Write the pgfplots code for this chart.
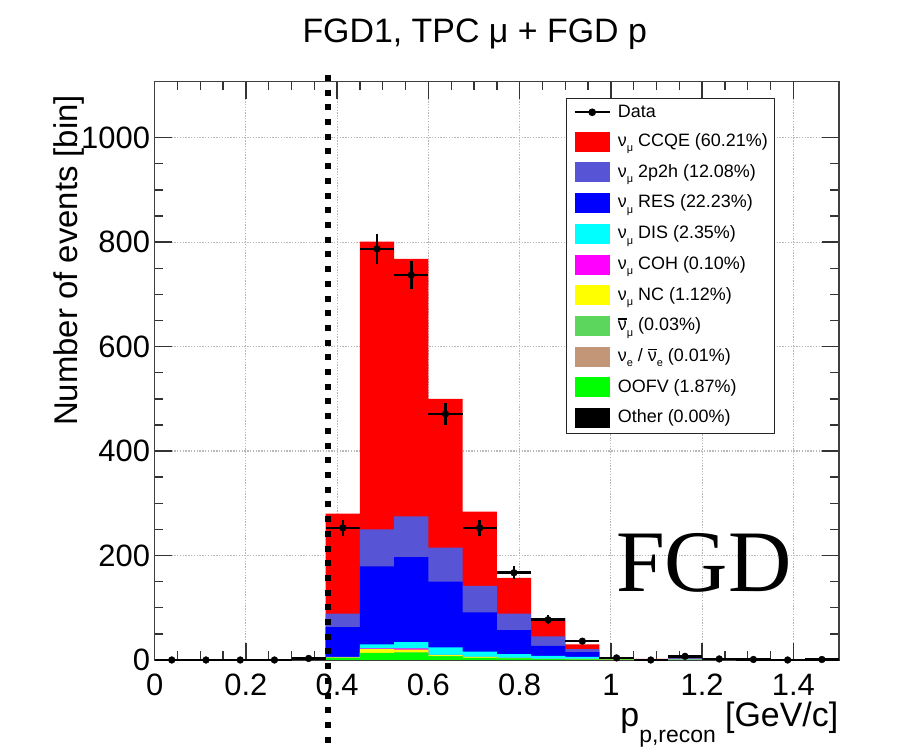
\documentclass[border=0pt]{standalone}
\usepackage{pgfplots}
\pgfplotsset{compat=1.18}
\usepackage{pgfplotstable}
\usepackage{fontspec}
\setmainfont{Liberation Sans}
\newfontfamily\serifFGD{Liberation Serif}
\definecolor{cccqe}{RGB}{255,0,0}
\definecolor{c2p2h}{RGB}{88,84,214}
\definecolor{cres}{RGB}{0,0,255}
\definecolor{cdis}{RGB}{0,255,255}
\definecolor{ccoh}{RGB}{255,0,255}
\definecolor{cnc}{RGB}{255,255,0}
\definecolor{cnubar}{RGB}{92,214,92}
\definecolor{cnue}{RGB}{196,150,120}
\definecolor{coofv}{RGB}{0,255,0}
\newcommand\sub[1]{\raisebox{-0.3em}{\fontsize{11}{11}\selectfont #1}}
\newcommand\nubar{\makebox[0pt][l]{\rule[0.62em]{0.48em}{0.07em}}ν}
\pgfplotsset{mcbar/.style={ybar, bar width=0.075, bar shift=0pt, draw=none,
  legend image code/.code={\fill[##1] (0bp,-10bp) rectangle (35bp,10bp);}}}

% cumulative tops of the stacked MC components
\pgfplotstableread{
x      ccqe p2h  res  dis  coh  nc   nubar oofv
0.3375 2    2    2    1    1    1    1     1
0.4125 280  89   63   6    5    5    4     4
0.4875 801  250  179  30   22   21   13.5  13
0.5625 768  275  197  34   22   20   14.5  14
0.6375 500  215  150  24   10   9.5  7.3   7
0.7125 284  142  91   16   6.2  6    4.2   4
0.7875 157  89   57   11   4.1  4    3     3
0.8625 80   45   27   8    2    2    1.5   1.5
0.9375 30   21   15   6    2    2    1     1
1.0125 2.5  2    1.8  1.2  1    1    0.5   0.5
1.0875 2    1.8  1.5  0.5  0.3  0.3  0.2   0.2
1.1625 3    2.8  2.6  2.3  0.5  0.5  0.3   0.3
1.2375 2    1.8  1.6  0.5  0.3  0.3  0.2   0.2
1.3125 1    0.9  0.8  0.3  0.2  0.2  0.1   0.1
}\mc

\pgfplotstableread{
x      ex     y    ey
0.0375 0.0375 0    0
0.1125 0.0375 0    0
0.1875 0.0375 0    0
0.2625 0.0375 0    0
0.3375 0.0375 3    1.7
0.4125 0.0375 253  15.9
0.4875 0.0375 787  28.1
0.5625 0.0375 737  27.1
0.6375 0.0375 471  21.7
0.7125 0.0375 253  15.9
0.7875 0.0375 167  12.9
0.8625 0.0375 77   8.8
0.9375 0.0375 36   6
1.0125 0.0375 4    2
1.0875 0.0375 0    0
1.1625 0.0375 7    2.6
1.2375 0.0375 2    1.4
1.3125 0.0375 1    1
1.3875 0.0375 0    0
1.4625 0.0375 1    1
}\data

\begin{document}
\begin{tikzpicture}
\begin{axis}[
  scale only axis, width=684bp, height=578bp,
  xmin=0, xmax=1.5, ymin=0, ymax=1107,
  clip=false,
  xtick={0,0.2,0.4,0.6,0.8,1,1.2,1.4},
  ytick={0,200,400,600,800,1000},
  minor x tick num=3, minor y tick num=3,
  major tick length=17bp, minor tick length=8.5bp,
  tick align=inside,
  axis line style={black!75, line width=1.4bp},
  tick style={black!80, line width=1.4bp},
  grid=major,
  major grid style={gray!55, line width=1.1bp, dash pattern=on 1.4bp off 1.4bp},
  /pgf/number format/assume math mode=true,
  /pgf/number format/1000 sep={},
  tick label style={font=\fontsize{31}{31}\selectfont},
  xticklabel style={anchor=base, inner sep=0pt, yshift=-35bp},
  yticklabel style={anchor=east, inner sep=0pt, xshift=-4.5bp},
  legend cell align=left,
  legend style={at={(axis cs:0.9014,1076)}, anchor=north west,
    draw=black!85, line width=1.2bp, fill=white,
    font=\fontsize{18}{20}\selectfont,
    inner xsep=7bp, inner ysep=5bp, row sep=10.7bp,
    nodes={inner sep=0pt, text height=13.5bp, text depth=4bp},
    /tikz/every odd column/.append style={column sep=7bp}},
]
\addlegendimage{black, legend image code/.code={\draw[black, line width=2.4bp] (0bp,0bp) -- (35bp,0bp); \fill[black] (17.5bp,0bp) circle (3.2bp);}}
\addlegendentry{Data}
\addplot[mcbar, fill=cccqe] table[x=x, y=ccqe] {\mc};
\addlegendentry{ν\sub{μ} CCQE (60.21\%)}
\addplot[mcbar, fill=c2p2h] table[x=x, y=p2h] {\mc};
\addlegendentry{ν\sub{μ} 2p2h (12.08\%)}
\addplot[mcbar, fill=cres] table[x=x, y=res] {\mc};
\addlegendentry{ν\sub{μ} RES (22.23\%)}
\addplot[mcbar, fill=cdis] table[x=x, y=dis] {\mc};
\addlegendentry{ν\sub{μ} DIS (2.35\%)}
\addplot[mcbar, fill=ccoh] table[x=x, y=coh] {\mc};
\addlegendentry{ν\sub{μ} COH (0.10\%)}
\addplot[mcbar, fill=cnc] table[x=x, y=nc] {\mc};
\addlegendentry{ν\sub{μ} NC (1.12\%)}
\addplot[mcbar, fill=cnubar] table[x=x, y=nubar] {\mc};
\addlegendentry{\nubar\sub{μ} (0.03\%)}
\addlegendimage{mcbar, fill=cnue}
\addlegendentry{ν\sub{e} / \nubar\sub{e} (0.01\%)}
\addplot[mcbar, fill=coofv] table[x=x, y=oofv] {\mc};
\addlegendentry{OOFV (1.87\%)}
\addlegendimage{mcbar, fill=black}
\addlegendentry{Other (0.00\%)}

\addplot[forget plot, black, line width=6bp, dash pattern=on 6bp off 8.7bp] coordinates {(0.38,1120) (0.38,-174)};

\addplot[forget plot, black, only marks, mark=*, mark size=3.4bp, mark options={fill=black, draw=black},
  error bars/.cd, x dir=both, x explicit, y dir=both, y explicit, error mark=none,
  error bar style={line width=2.6bp, black}]
  table[x=x, y=y, x error=ex, y error=ey] {\data};

\node[anchor=base, inner sep=0pt, font=\fontsize{34}{34}\selectfont] at ([xshift=319.9bp, yshift=617bp]rel axis cs:0,0) {FGD1, TPC μ + FGD p};
\node[rotate=90, anchor=base east, inner sep=0pt, font=\fontsize{33}{33}\selectfont] at ([xshift=-77bp, yshift=565bp]rel axis cs:0,0) {Number of events [bin]};
\node[anchor=base east, inner sep=0pt, font=\fontsize{34}{34}\selectfont] at ([xshift=683.4bp, yshift=-66bp]rel axis cs:0,0) {p\raisebox{-0.5em}{\fontsize{23}{23}\selectfont p,recon} [GeV/c]};
\node[anchor=base west, inner sep=0pt, font=\serifFGD\fontsize{88}{88}\selectfont] at ([xshift=461bp, yshift=68bp]rel axis cs:0,0) {FGD};
\path ([xshift=-154.6bp, yshift=-91bp]rel axis cs:0,0) rectangle ([xshift=63bp, yshift=81.7bp]rel axis cs:1,1);
\end{axis}
\end{tikzpicture}
\end{document}
